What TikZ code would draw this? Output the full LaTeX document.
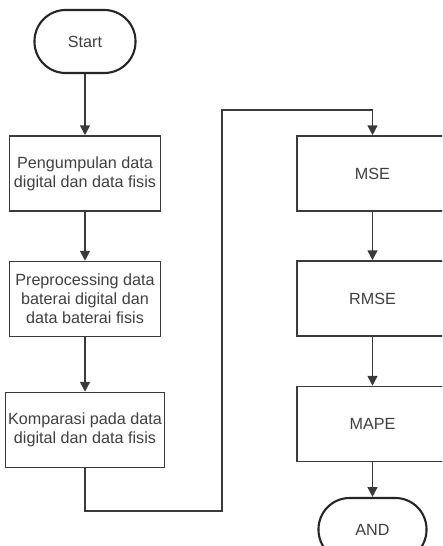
\documentclass[tikz,border=0pt]{standalone}
\usepackage{fontspec}
\setmainfont{Liberation Sans}
\usepackage{tikz}
\usetikzlibrary{arrows.meta}
\usepackage{xcolor}
\definecolor{FlowLine}{HTML}{3a3a3a}
\definecolor{FlowText}{HTML}{404040}

\tikzset{
    flowbox/.style={draw=FlowLine,line width=1.1pt,rectangle,minimum width=3.775cm,minimum height=1.875cm,
        align=center,text=FlowText,font=\fontsize{11.5}{13.5}\selectfont,inner sep=2pt},
    flowend/.style={draw=black!85,line width=1.5pt,rectangle,rounded corners=0.78cm,minimum width=2.525cm,
        minimum height=1.575cm,text=FlowText,font=\fontsize{11.5}{13.5}\selectfont},
    flowarrow/.style={draw=FlowLine,line width=1.1pt,-{Triangle[width=7pt,length=7pt]}}
}

\begin{document}
\begin{tikzpicture}[x=0.025cm,y=-0.025cm]
    \path[use as bounding box] (0,0) rectangle (442,546);
    \clip (0,0) rectangle (442,546);
    \fill[white] (0,0) rectangle (442,546);

    \node[flowend] (start) at (85,41.5) {Start};
    \node[flowbox] (pengumpulan) at (85,173.5) {Pengumpulan data\\digital dan data fisis};
    \node[flowbox] (preproc) at (85,299) {Preprocessing data\\baterai digital dan\\data baterai fisis};
    \node[flowbox] (komparasi) at (85,430) {Komparasi pada data\\digital dan data fisis};

    \node[flowbox] (mse) at (372.5,173.5) {MSE};
    \node[flowbox] (rmse) at (372.5,298.5) {RMSE};
    \node[flowbox] (mape) at (372.5,424) {MAPE};
    \node[flowend,minimum width=2.7cm] (stop) at (372.5,529.5) {AND};

    \coordinate (k1) at (222,511);
    \coordinate (k2) at (222,110);

    \foreach \a/\b in {start/pengumpulan,pengumpulan/preproc,preproc/komparasi,mse/rmse,rmse/mape,mape/stop} {
        \draw[flowarrow] (\a.south) -- (\b.north);
    }
    \draw[flowarrow] (komparasi.south) |- (k1) -- (k2) -| (mse.north);
\end{tikzpicture}
\end{document}
